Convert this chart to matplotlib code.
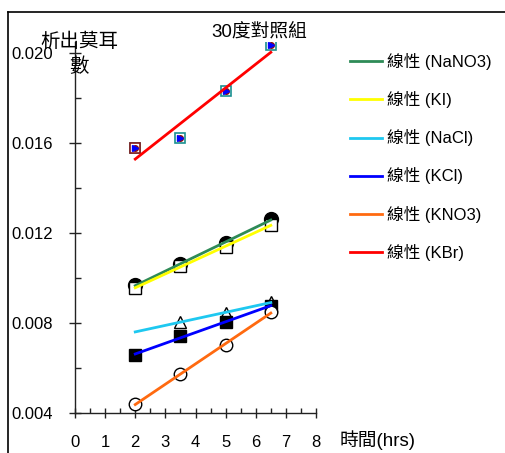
import numpy as np
import matplotlib
matplotlib.use("Agg")
import matplotlib.pyplot as plt
from matplotlib.lines import Line2D
from matplotlib.ticker import MultipleLocator, FuncFormatter

plt.rcParams['font.family'] = ['Liberation Sans', 'Noto Sans CJK TC', 'DejaVu Sans']

hours = [2, 3.5, 5, 6.5]
nano3 = [0.00969, 0.01062, 0.01156, 0.01262]
ki = [0.00956, 0.01053, 0.01138, 0.01236]
nacl_x = [3.5, 5, 6.5]
nacl = [0.00806, 0.00844, 0.00893]
kcl = [0.00658, 0.00742, 0.00804, 0.00876]
kno3 = [0.00440, 0.00573, 0.00702, 0.00849]
kbr = [0.01578, 0.01622, 0.01831, 0.02036]

legend_labels = ['線性 (NaNO3)', '線性 (KI)', '線性 (NaCl)', '線性 (KCl)', '線性 (KNO3)', '線性 (KBr)']
line_colors = ['#2e8b57', '#ffff00', '#1ec8f0', '#0000ff', '#ff6a10', '#ff0000']

fig = plt.figure(figsize=(5.05, 4.53), dpi=100)
ax = fig.add_axes([75/505, 40/453, 241/505, 371/453])

# markers
ax.plot(hours, nano3, 'o', ms=10, color='black', zorder=2)
ax.plot(hours, ki, 's', ms=8.5, mfc='white', mec='black', mew=1.0, zorder=2)
ax.plot(nacl_x, nacl, '^', ms=9, mfc='white', mec='black', mew=1.0, zorder=2)
ax.plot(hours, kcl, 's', ms=9, color='black', zorder=2)
ax.plot(hours, kno3, 'o', ms=9, mfc='white', mec='black', mew=1.0, zorder=2)
ax.plot(hours, kbr, 's', ms=7.5, mfc='white', mec='#1a9090', mew=1.2, zorder=2)
ax.plot(hours[:1], kbr[:1], 's', ms=7.5, mfc='white', mec='#8b1a1a', mew=1.2, zorder=2)
ax.plot(hours, kbr, 'o', ms=4, color='#8b1010', zorder=3)
ax.plot(hours, kbr, '>', ms=4, color='#0000ff', zorder=3)

# linear trend lines
series = [(hours, nano3), (hours, ki), (nacl_x, nacl), (hours, kcl), (hours, kno3), (hours, kbr)]
xfit = np.array([2, 6.5])
for (xs, ys), c, lab in zip(series, line_colors, legend_labels):
    k, b = np.polyfit(xs, ys, 1)
    ax.plot(xfit, k * xfit + b, color=c, lw=2.0, label=lab, zorder=4)

ax.set_xlim(0, 8)
ax.set_ylim(0.004, 0.0205)
ax.spines['top'].set_visible(False)
ax.spines['right'].set_visible(False)
for s in ['left', 'bottom']:
    ax.spines[s].set_color('#222222')
    ax.spines[s].set_linewidth(1.0)

ax.xaxis.set_major_locator(MultipleLocator(1))
ax.xaxis.set_minor_locator(MultipleLocator(0.5))
ax.yaxis.set_major_locator(MultipleLocator(0.004))
ax.yaxis.set_minor_locator(MultipleLocator(0.002))
ax.yaxis.set_major_formatter(FuncFormatter(lambda v, p: f"{v:.3f}"))
ax.tick_params(axis='y', which='major', direction='inout', length=9, width=1, pad=11.5, labelsize=12, color='#222222')
ax.tick_params(axis='y', which='minor', direction='in', length=4.5, width=1, color='#222222')
ax.tick_params(axis='x', which='major', direction='inout', length=7, width=1, pad=12, labelsize=12, color='#222222')
ax.tick_params(axis='x', which='minor', direction='in', length=3.5, width=1, color='#222222')

leg = ax.legend(loc='upper left', bbox_to_anchor=(350/505, 1 - 53/453), bbox_transform=fig.transFigure,
                frameon=False, fontsize=12, handlelength=1.9, handletextpad=0.3, labelspacing=1.27,
                borderaxespad=0, borderpad=0)

fig.text(79/505, 1 - 42/453, '析出莫耳', fontsize=14, ha='center', va='center')
fig.text(79/505, 1 - 67/453, '數', fontsize=14, ha='center', va='center')
fig.text(259/505, 1 - 32/453, '30度對照組', fontsize=13.5, ha='center', va='center')
fig.text(340/505, 1 - 440/453, '時間(hrs)', fontsize=13.5, ha='left', va='center')

# figure frame (top and left)
fig.add_artist(Line2D([8/505, 1], [1 - 12/453, 1 - 12/453], transform=fig.transFigure, color='black', lw=1.2))
fig.add_artist(Line2D([8/505, 8/505], [0, 1 - 12/453], transform=fig.transFigure, color='black', lw=1.2))

fig.savefig('out.png', dpi=100)
